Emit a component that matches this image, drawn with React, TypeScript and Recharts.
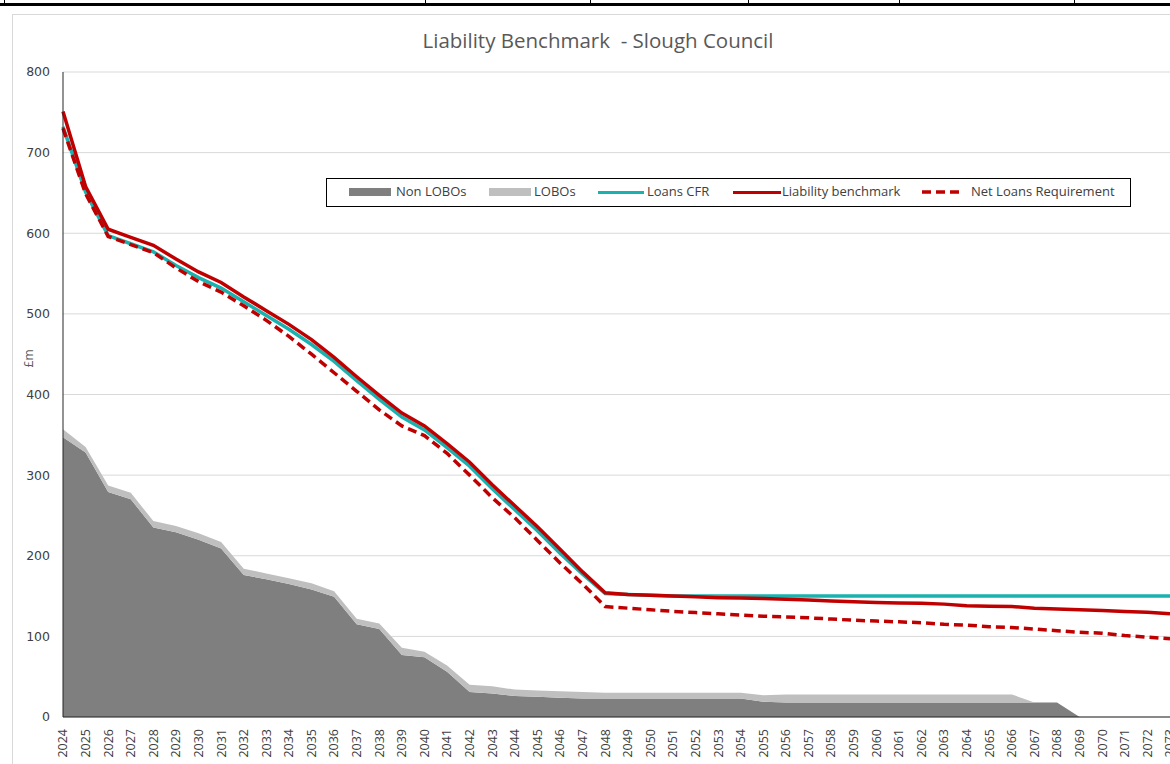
import {
  Area,
  CartesianGrid,
  ComposedChart,
  Line,
  XAxis,
  YAxis,
} from "recharts";

const years = [
  "2024", "2025", "2026", "2027", "2028", "2029", "2030", "2031", "2032", "2033",
  "2034", "2035", "2036", "2037", "2038", "2039", "2040", "2041", "2042", "2043",
  "2044", "2045", "2046", "2047", "2048", "2049", "2050", "2051", "2052", "2053",
  "2054", "2055", "2056", "2057", "2058", "2059", "2060", "2061", "2062", "2063",
  "2064", "2065", "2066", "2067", "2068", "2069", "2070", "2071", "2072", "2073",
];

const nonLobos = [
  347, 328, 279, 270, 235, 229, 220, 209, 176, 171,
  165, 158, 149, 115, 109, 77, 74, 56, 31, 29,
  26, 25, 24, 23, 23, 23, 23, 23, 23, 23,
  23, 19, 18, 18, 18, 18, 18, 18, 18, 18,
  18, 18, 18, 18, 18, 0, 0, 0, 0, 0,
];

const lobos = [
  10, 7, 8, 8, 8, 8, 8, 8, 8, 7,
  7, 8, 7, 7, 7, 9, 7, 8, 9, 9,
  8, 8, 8, 8, 7, 7, 7, 7, 7, 7,
  7, 8, 10, 10, 10, 10, 10, 10, 10, 10,
  10, 10, 10, 0, 0, 0, 0, 0, 0, 0,
];

const loansCfr = [
  732, 651, 597, 587, 577, 560, 545, 532, 515, 498,
  481, 462, 441, 417, 394, 372, 356, 334, 311, 283,
  257, 231, 203, 177, 153, 152, 151, 150, 150, 150,
  150, 150, 150, 150, 150, 150, 150, 150, 150, 150,
  150, 150, 150, 150, 150, 150, 150, 150, 150, 150,
];

const liabilityBenchmark = [
  751, 658, 605, 595, 585, 568, 552, 539, 521, 504,
  487, 468, 446, 422, 399, 377, 361, 339, 316, 288,
  262, 236, 208, 180, 154, 152, 151, 150, 149, 148,
  147.5, 147, 146, 145, 144, 143, 142, 141.5, 141, 140,
  138, 137.5, 137, 135, 134, 133, 132, 131, 130, 128,
];

const netLoansRequirement = [
  730, 649, 596, 586, 576, 557, 540, 527, 510, 492,
  472, 450, 427, 404, 381, 361, 349, 327, 300, 272,
  247, 219, 191, 165, 137, 135, 133, 131, 129.5, 128,
  126.5, 125, 124, 123, 121.5, 120, 119, 118, 117, 115,
  114, 112, 111, 109, 107, 105, 104, 101, 99, 97,
];

const yTicks = [0, 100, 200, 300, 400, 500, 600, 700, 800];

const data = years.map((year, i) => ({
  year,
  nonLobos: nonLobos[i],
  lobos: lobos[i],
  loansCfr: loansCfr[i],
  liabilityBenchmark: liabilityBenchmark[i],
  netLoansRequirement: netLoansRequirement[i],
}));

const RED = "#c00000";
const TEAL = "#19b2ae";

function YearTick({ x, y, payload }: any) {
  return (
    <text
      transform={`translate(${x},${y}) rotate(-90)`}
      x={-10}
      dy="0.35em"
      textAnchor="end"
      fontSize={12.5}
      fontFamily="'Open Sans', sans-serif"
      fill="#404040"
    >
      {payload.value}
    </text>
  );
}

// "£m" sits a little above the middle of the value axis
function UnitLabel({ viewBox }: any) {
  const cx = viewBox.x + 16;
  const cy = viewBox.y + viewBox.height / 2 - 36;
  return (
    <text
      transform={`translate(${cx},${cy}) rotate(-90)`}
      textAnchor="middle"
      dy="0.35em"
      fontSize={12}
      fontFamily="'Open Sans', sans-serif"
      fill="#595959"
    >
      £m
    </text>
  );
}

const legendText = {
  position: "absolute" as const,
  top: 5,
  fontSize: 13,
  fontFamily: "'Open Sans', sans-serif",
  color: "#404040",
  lineHeight: "15px",
};

function ChartLegend() {
  return (
    <div
      style={{
        position: "absolute",
        left: 326,
        top: 178,
        width: 803,
        height: 27,
        border: "1px solid #000",
        background: "#fff",
      }}
    >
      <div style={{ position: "absolute", left: 22, top: 9, width: 42, height: 8, background: "#7f7f7f" }} />
      <span style={{ ...legendText, left: 69 }}>Non LOBOs</span>
      <div style={{ position: "absolute", left: 162, top: 9, width: 42, height: 8, background: "#bfbfbf" }} />
      <span style={{ ...legendText, left: 207 }}>LOBOs</span>
      <div style={{ position: "absolute", left: 271, top: 12, width: 46, height: 3, background: TEAL }} />
      <span style={{ ...legendText, left: 320 }}>Loans CFR</span>
      <div style={{ position: "absolute", left: 406, top: 12, width: 48, height: 3, background: RED }} />
      <span style={{ ...legendText, left: 455 }}>Liability benchmark</span>
      <svg style={{ position: "absolute", left: 594, top: 9 }} width={42} height={8}>
        <line x1={1} y1={4} x2={41} y2={4} stroke={RED} strokeWidth={3.5} strokeDasharray="9 5" />
      </svg>
      <span style={{ ...legendText, left: 644 }}>Net Loans Requirement</span>
    </div>
  );
}

export default function App() {
  return (
    <div
      style={{
        position: "fixed",
        left: 0,
        top: 0,
        width: 1170,
        height: 764,
        overflow: "hidden",
        background: "#fff",
      }}
    >
      {/* table edge above the chart */}
      <div style={{ position: "absolute", left: 0, top: 3, width: 1170, height: 3, background: "#000" }} />
      {[4, 425, 590, 748, 899, 1074].map((lx) => (
        <div key={lx} style={{ position: "absolute", left: lx, top: 0, width: 1, height: 4, background: "#000" }} />
      ))}

      <div
        style={{
          position: "absolute",
          left: 12,
          top: 14,
          width: 1200,
          height: 800,
          border: "1px solid #d9d9d9",
          background: "#fff",
        }}
      >
        <div
          style={{
            position: "absolute",
            left: 0,
            top: 11,
            width: 1170,
            textAlign: "center",
            fontSize: 20.5,
            fontFamily: "'Open Sans', sans-serif",
            color: "#595959",
          }}
        >
          Liability Benchmark&nbsp; - Slough Council
        </div>

        <ComposedChart
          width={1200}
          height={780}
          data={data}
          margin={{ top: 57, right: 43, left: 0, bottom: 28 }}
        >
          <CartesianGrid vertical={false} stroke="#d9d9d9" />
          <XAxis
            dataKey="year"
            scale="point"
            interval={0}
            height={50}
            tick={<YearTick />}
            tickLine={false}
            tickSize={0}
            stroke="#262626"
          />
          <YAxis
            domain={[0, 800]}
            ticks={yTicks}
            width={50}
            tickLine={false}
            tickSize={0}
            tickMargin={13}
            stroke="#262626"
            tick={{ fontSize: 12.5, fill: "#404040", fontFamily: "'DejaVu Sans', sans-serif" }}
            label={<UnitLabel />}
          />
          <Area
            type="linear"
            dataKey="nonLobos"
            stackId="debt"
            stroke="none"
            fill="#7f7f7f"
            fillOpacity={1}
            isAnimationActive={false}
          />
          <Area
            type="linear"
            dataKey="lobos"
            stackId="debt"
            stroke="none"
            fill="#bfbfbf"
            fillOpacity={1}
            isAnimationActive={false}
          />
          <Line
            type="linear"
            dataKey="loansCfr"
            stroke={TEAL}
            strokeWidth={3.5}
            dot={false}
            isAnimationActive={false}
          />
          <Line
            type="linear"
            dataKey="liabilityBenchmark"
            stroke={RED}
            strokeWidth={3.5}
            dot={false}
            isAnimationActive={false}
          />
          <Line
            type="linear"
            dataKey="netLoansRequirement"
            stroke={RED}
            strokeWidth={3.5}
            strokeDasharray="9 5"
            dot={false}
            isAnimationActive={false}
          />
        </ComposedChart>

        <div style={{ position: "absolute", left: -13, top: -15 }}>
          <ChartLegend />
        </div>
      </div>
    </div>
  );
}
